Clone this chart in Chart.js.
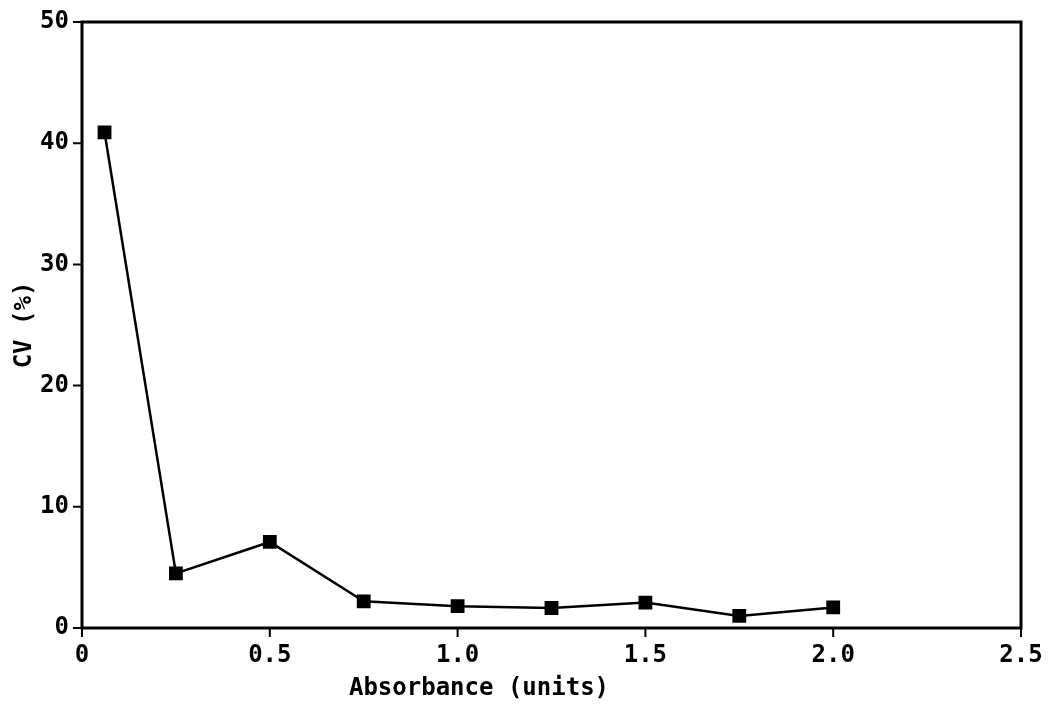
<!DOCTYPE html>
<html>
<head>
<meta charset="utf-8">
<script src="https://cdn.jsdelivr.net/npm/chart.js@4"></script>
<style>
  html, body { margin: 0; padding: 0; background: #fff; }
  #wrap { width: 1054px; height: 704px; position: relative; }
</style>
</head>
<body>
<div id="wrap"><canvas id="chart"></canvas></div>
<script>
// absorbance (units) vs coefficient of variation (%)
const absorbance = [0.06, 0.25, 0.5, 0.75, 1.0, 1.25, 1.5, 1.75, 2.0];
const cvPercent = [40.9, 4.5, 7.1, 2.2, 1.8, 1.65, 2.1, 1.0, 1.7];
const xTicks = [0, 0.5, 1.0, 1.5, 2.0, 2.5];
const yTicks = [0, 10, 20, 30, 40, 50];
const xTitle = 'Absorbance (units)';

const font = { family: '"DejaVu Sans Mono", monospace', size: 24, weight: 'bold' };
const tickLen = 9;

// closed frame round the plot area, outside tick marks, and the x title
// (the title sits left of centre in the original)
const frame = {
  id: 'frame',
  afterDraw(chart) {
    const { ctx, chartArea: a, scales } = chart;
    ctx.save();
    ctx.strokeStyle = '#000';
    ctx.lineWidth = 3;
    ctx.strokeRect(a.left, a.top, a.right - a.left, a.bottom - a.top);
    ctx.lineWidth = 2;
    ctx.beginPath();
    scales.x.ticks.forEach(t => {
      const px = scales.x.getPixelForValue(t.value);
      ctx.moveTo(px, a.bottom);
      ctx.lineTo(px, a.bottom + tickLen);
    });
    scales.y.ticks.forEach(t => {
      const py = scales.y.getPixelForValue(t.value);
      ctx.moveTo(a.left, py);
      ctx.lineTo(a.left - tickLen, py);
    });
    ctx.stroke();
    ctx.fillStyle = '#000';
    ctx.font = `bold ${font.size}px ${font.family}`;
    ctx.textAlign = 'center';
    ctx.textBaseline = 'middle';
    ctx.fillText(xTitle, 479, 689);
    ctx.restore();
  }
};

const grid = { display: false, drawTicks: true, tickLength: tickLen };

new Chart(document.getElementById('chart'), {
  type: 'scatter',
  data: {
    datasets: [{
      data: absorbance.map((x, i) => ({ x, y: cvPercent[i] })),
      showLine: true,
      borderColor: '#000',
      borderWidth: 2.5,
      backgroundColor: '#000',
      pointStyle: 'rect',
      pointRadius: 8,
      pointHoverRadius: 8
    }]
  },
  options: {
    responsive: true,
    maintainAspectRatio: false,
    animation: false,
    layout: { padding: { top: 22, right: 33, left: 10, bottom: 0 } },
    plugins: { legend: { display: false }, tooltip: { enabled: false } },
    scales: {
      x: {
        type: 'linear',
        min: 0,
        max: 2.5,
        afterFit: s => { s.height = 76; },
        afterBuildTicks: s => { s.ticks = xTicks.map(v => ({ value: v })); },
        grid,
        border: { display: false },
        ticks: {
          color: '#000',
          font,
          padding: 4,
          maxRotation: 0,
          callback: v => (v === 0 ? '0' : v.toFixed(1))
        },
        title: { display: false }
      },
      y: {
        type: 'linear',
        min: 0,
        max: 50,
        afterFit: s => { s.width = 72; },
        afterBuildTicks: s => { s.ticks = yTicks.map(v => ({ value: v })); },
        grid,
        border: { display: false },
        ticks: { color: '#000', font, padding: 4 },
        title: { display: true, text: 'CV (%)', color: '#000', font, padding: 0 }
      }
    }
  },
  plugins: [frame]
});
</script>
</body>
</html>
